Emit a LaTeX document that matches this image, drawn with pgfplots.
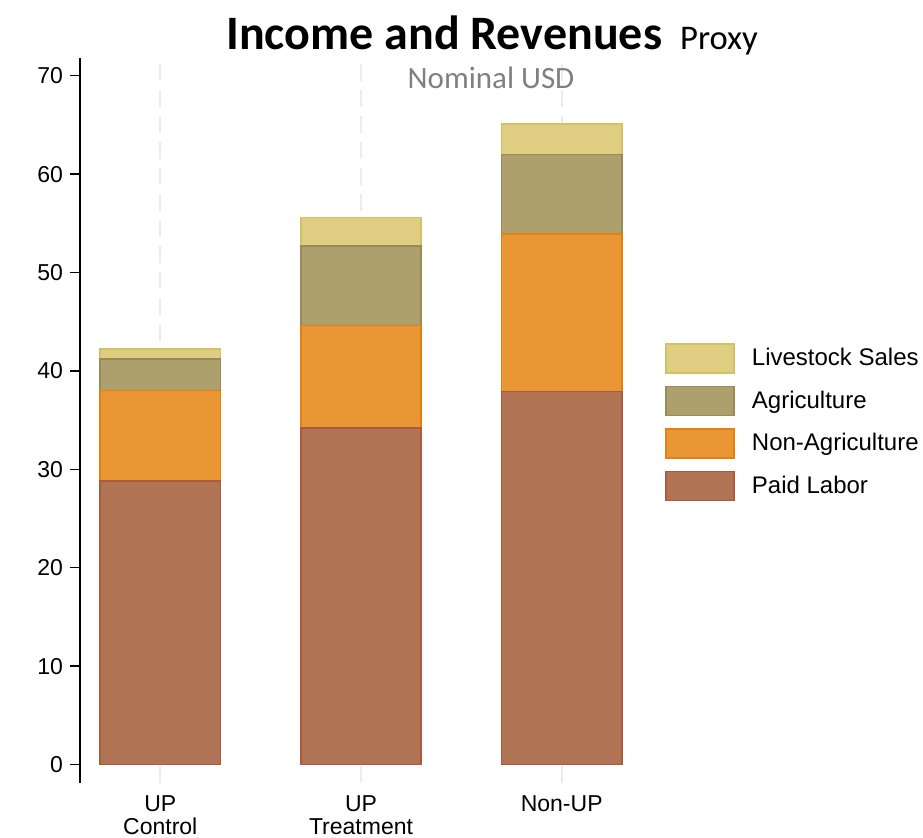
\documentclass[border=0pt]{standalone}
\usepackage{pgfplots}
\pgfplotsset{compat=1.18}
\usepackage{fontspec}
\setmainfont{Liberation Sans}
\newfontfamily\carlito{Carlito}
\definecolor{paidF}{RGB}{176,116,85}
\definecolor{paidE}{RGB}{170,92,60}
\definecolor{nonagF}{RGB}{232,151,52}
\definecolor{nonagE}{RGB}{228,128,16}
\definecolor{agF}{RGB}{174,160,108}
\definecolor{agE}{RGB}{152,139,88}
\definecolor{livF}{RGB}{223,205,130}
\definecolor{livE}{RGB}{214,192,102}
\definecolor{gridc}{RGB}{236,236,236}
\begin{document}
\begin{tikzpicture}
\path[use as bounding box] (-40pt,-27.5pt) rectangle (421.5pt,391.5pt);
\begin{axis}[
  at={(0,0)}, anchor=south west,
  scale only axis, width=281pt, height=362.5pt,
  ybar stacked, bar width=0.6,
  xmin=-0.4, xmax=2.4, ymin=-1.88, ymax=71.8,
  xtick={0,1,2},
  xticklabels={{UP\\Control},{UP\\Treatment},{Non-UP}},
  xticklabel style={align=center, font=\fontsize{11.5}{11.5}\selectfont, yshift=2pt},
  ytick={0,10,...,70},
  yticklabel style={font=\fontsize{11.5}{12}\selectfont},
  /pgf/number format/assume math mode=true,
  axis x line*=bottom,
  axis y line*=left,
  x axis line style={draw=none},
  y axis line style={line width=0.7pt, black, -},
  xtick style={draw=none},
  ytick style={line width=0.7pt, black},
  major tick length=5pt,
  tick align=outside,
  xmajorgrids,
  major x grid style={gridc, line width=1pt, dash pattern=on 8.5pt off 4.5pt},
  legend style={at={(1.041,0.607)}, anchor=north west, draw=none, fill=none,
    font=\fontsize{12}{12.5}\selectfont, row sep=6pt, column sep=6.5pt, inner sep=0pt,
    cells={anchor=west}},
  reverse legend,
  legend image code/.code={\draw[#1, line width=0.75pt] (0pt,-7.25pt) rectangle (34pt,7.25pt);},
  clip=false,
]
\addplot[fill=paidF, draw=paidE, line width=0.75pt] coordinates {(0,28.8) (1,34.2) (2,37.9)};
\addlegendentry{Paid Labor}
\addplot[fill=nonagF, draw=nonagE, line width=0.75pt] coordinates {(0,9.2) (1,10.4) (2,16.0)};
\addlegendentry{Non-Agriculture}
\addplot[fill=agF, draw=agE, line width=0.75pt] coordinates {(0,3.2) (1,8.1) (2,8.1)};
\addlegendentry{Agriculture}
\addplot[fill=livF, draw=livE, line width=0.75pt] coordinates {(0,1.0) (1,2.9) (2,3.1)};
\addlegendentry{Livestock Sales}
\end{axis}
\node[anchor=base, inner sep=0pt] at (206pt,366.5pt) {\carlito{\fontsize{24}{25}\selectfont\bfseries Income and Revenues}\hspace{9pt}{\fontsize{17.3}{18}\selectfont Proxy}};
\node[anchor=base, inner sep=0pt, text={rgb,255:red,128;green,128;blue,128}] at (205.5pt,347pt) {\carlito\fontsize{15.5}{16}\selectfont Nominal USD};
\end{tikzpicture}
\end{document}
